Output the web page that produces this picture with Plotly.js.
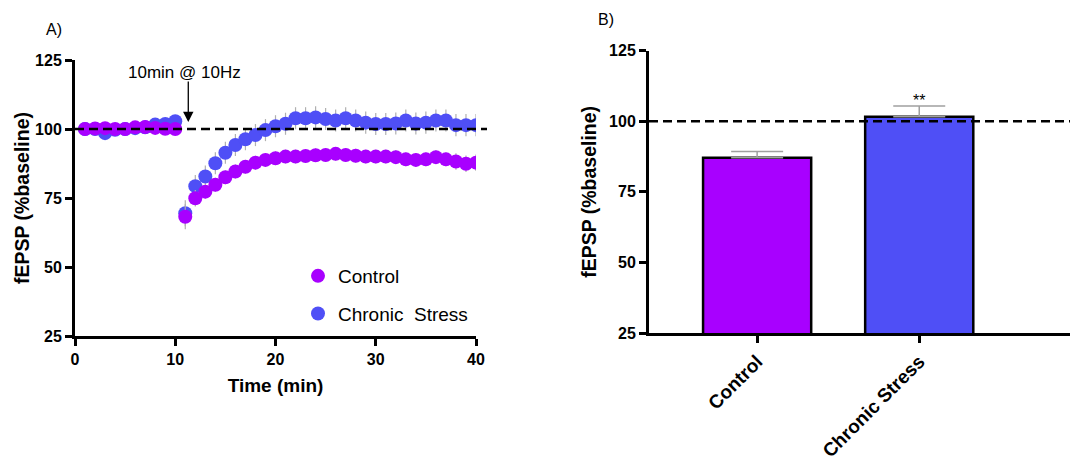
<!DOCTYPE html>
<html>
<head>
<meta charset="utf-8">
<script src="https://cdn.plot.ly/plotly-3.0.1.min.js"></script>
<style>html,body{margin:0;padding:0;background:#fff;}#chart{width:1074px;height:460px;}</style>
</head>
<body>
<div id="chart"></div>
<script>
// ---- Data ----
var time = [1,2,3,4,5,6,7,8,9,10,11,12,13,14,15,16,17,18,19,20,21,22,23,24,25,26,27,28,29,30,31,32,33,34,35,36,37,38,39,40];
var controlValues = [100,100.2,100.3,100,100,100.6,100.7,100.4,100.1,100,
  68.2,74.9,77.3,79.8,82.5,84.6,86.3,87.8,88.8,89.4,
  90.0,90.0,90.2,90.5,90.6,91.0,90.6,90.3,90.0,90.0,
  90.0,89.8,89.0,88.8,89.0,89.8,89.0,88.2,87.4,87.8];
var controlErr = [1,1,1,1,1,1,1,1,1,1,
  4.5,3,2.5,2.5,2.5,2.5,2.5,2.5,2.5,2.5,
  2.5,2.5,2.5,2.5,2.5,2.5,2.5,2.5,2.5,2.5,
  2.5,2.5,2.5,2.5,2.5,2.5,2.5,3,3,3];
var stressValues = [100,100,98.5,99.7,100,100.3,100.6,101.6,101.8,102.8,
  69.5,79.3,82.8,87.6,91.4,94.2,96.3,97.8,99.6,101.0,
  101.9,103.9,103.9,104.2,103.6,103.1,103.9,103.1,102.3,101.8,
  101.8,102.0,103.1,102.0,102.3,103.1,103.1,101.4,101.4,101.4];
var stressErr = [1,1,1,1,1,1,1,1,1,1,
  4.7,4,4,4,4,4,4,4,4,4,
  4,4,4,4,4,4,4,4,4,4,
  4,4,4,4,4,4,4,4,4,4];
var groups = ['Control', 'Chronic Stress'];
var groupMeans = [87.1, 101.6];
var groupErr = [2.2, 3.8];
var legendNames = ['Control', 'Chronic\u00a0 Stress'];
var yTicks = [25, 50, 75, 100, 125];
var xTicks = [0, 10, 20, 30, 40];

var purple = '#a800ff';
var blue = '#4f4ff6';
var FONT = 'Liberation Sans, Arial, sans-serif';

var traces = [
  {x: time, y: stressValues, type: 'scatter', mode: 'markers', name: legendNames[1],
   legendrank: 2, legendgroup: 'b',
   marker: {color: blue, size: 14},
   error_y: {type: 'data', array: stressErr, color: '#b0b0b0', thickness: 1.2, width: 0},
   xaxis: 'x', yaxis: 'y'},
  {x: time, y: controlValues, type: 'scatter', mode: 'markers', name: legendNames[0],
   legendrank: 1, legendgroup: 'a',
   marker: {color: purple, size: 14},
   error_y: {type: 'data', array: controlErr, color: '#b0b0b0', thickness: 1.2, width: 0},
   xaxis: 'x', yaxis: 'y'},
  {x: groups, y: groupMeans, type: 'bar', showlegend: false, width: 0.667,
   marker: {color: [purple, blue], line: {color: '#000', width: 2.5}},
   error_y: {type: 'data', symmetric: false, array: groupErr, arrayminus: [0, 0],
             color: '#a0a0a0', thickness: 1.5, width: 26},
   xaxis: 'x2', yaxis: 'y2'}
];

var axisCommon = {
  showline: true, linewidth: 3, linecolor: '#000', ticks: 'outside', ticklen: 7,
  tickwidth: 3, tickcolor: '#000', showgrid: false, zeroline: false,
  tickfont: {family: FONT, size: 16, color: '#000', weight: 'bold'}
};
function ax(extra) { return Object.assign({}, axisCommon, extra); }

var layout = {
  width: 1074, height: 460,
  margin: {l: 0, r: 0, t: 0, b: 0},
  paper_bgcolor: '#fff', plot_bgcolor: 'rgba(0,0,0,0)',
  font: {family: FONT, color: '#000'},
  showlegend: true,
  legend: {x: 298/1074, xanchor: 'left', y: 0.3587, yanchor: 'middle',
           traceorder: 'grouped', tracegroupgap: 10,
           font: {family: FONT, size: 19, color: '#000'}, bgcolor: 'rgba(0,0,0,0)'},
  xaxis: ax({domain: [75/1074, 476/1074], range: [0, 40], tickvals: xTicks, anchor: 'y',
    title: {text: 'Time (min)', font: {family: FONT, size: 19, weight: 'bold'}, standoff: 12}}),
  yaxis: ax({domain: [1 - 336/460, 1 - 60/460], range: [25, 125], tickvals: yTicks, anchor: 'x',
    title: {text: 'fEPSP (%baseline)', font: {family: FONT, size: 19.5, weight: 'bold'}, standoff: 1}}),
  xaxis2: ax({domain: [649/1074, 1070/1074], range: [-0.667, 1.93], type: 'category', anchor: 'y2',
    tickangle: -45, tickfont: {family: FONT, size: 19, color: '#000', weight: 'bold'}}),
  yaxis2: ax({domain: [1 - 333/460, 1 - 50.7/460], range: [25, 125], tickvals: yTicks, anchor: 'x2',
    title: {text: 'fEPSP (%baseline)', font: {family: FONT, size: 19.5, weight: 'bold'}, standoff: 8}}),
  shapes: [
    {type: 'line', xref: 'paper', yref: 'y', x0: 75/1074, x1: 487/1074, y0: 100, y1: 100,
     line: {color: '#000', width: 2.5, dash: '9px,5px'}},
    {type: 'line', xref: 'paper', yref: 'y2', x0: 649/1074, x1: 1070/1074, y0: 100, y1: 100,
     line: {color: '#000', width: 2.5, dash: '9px,5px'}}
  ],
  annotations: [
    {xref: 'paper', yref: 'paper', x: 54/1074, y: 1 - 30/460, xanchor: 'center', yanchor: 'middle',
     text: 'A)', showarrow: false, font: {family: FONT, size: 16, color: '#000'}},
    {xref: 'paper', yref: 'paper', x: 606/1074, y: 1 - 20/460, xanchor: 'center', yanchor: 'middle',
     text: 'B)', showarrow: false, font: {family: FONT, size: 16, color: '#000'}},
    {xref: 'x', yref: 'y', x: 10.9, y: 120.6, text: '10min @ 10Hz', showarrow: false,
     font: {family: FONT, size: 17, color: '#000'}},
    {xref: 'x', yref: 'y', x: 11.3, y: 102.5, text: '', showarrow: true, ax: 0, ay: -42,
     arrowhead: 2, arrowsize: 1.6, arrowwidth: 1.3, arrowcolor: '#000'},
    {xref: 'x2', yref: 'y2', x: 'Chronic Stress', y: 107.4, text: '**', showarrow: false,
     font: {family: FONT, size: 16, color: '#000'}}
  ]
};

Plotly.newPlot('chart', traces, layout, {displayModeBar: false, staticPlot: true});
</script>
</body>
</html>
